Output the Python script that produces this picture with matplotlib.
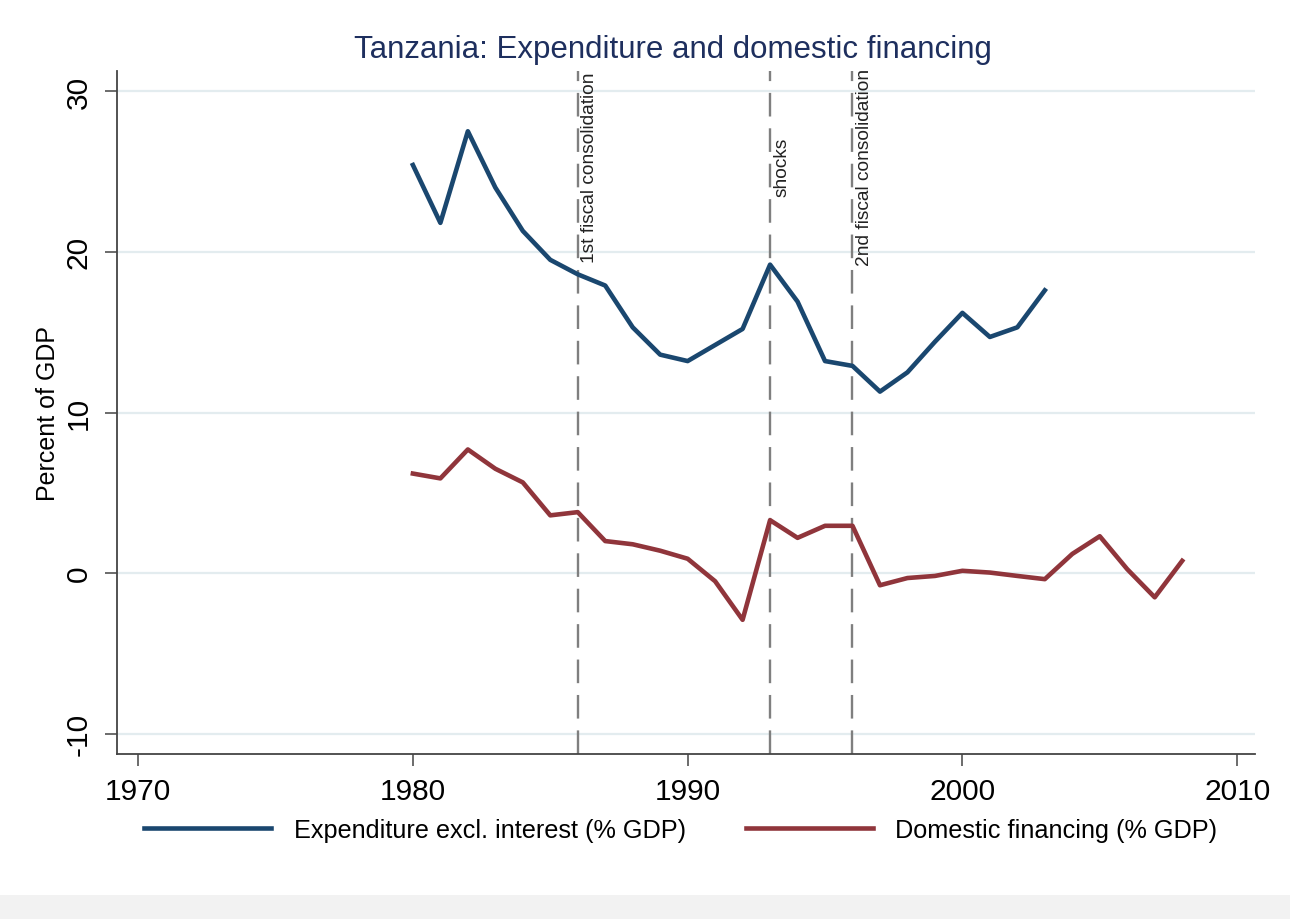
import numpy as np
import matplotlib.pyplot as plt
from matplotlib.patches import Rectangle

plt.rcParams['font.family'] = ['Liberation Sans', 'DejaVu Sans']
plt.rcParams['axes.unicode_minus'] = False

# Data
years_exp = list(range(1980, 2004))
expenditure = [25.4, 21.8, 27.5, 24.0, 21.3, 19.5, 18.6, 17.9, 15.3, 13.6,
               13.2, 14.2, 15.2, 19.2, 16.9, 13.2, 12.9, 11.3, 12.5, 14.4,
               16.2, 14.7, 15.3, 17.6]

years_fin = list(range(1980, 2009))
financing = [6.2, 5.9, 7.7, 6.5, 5.65, 3.6, 3.8, 2.0, 1.8, 1.4,
             0.9, -0.5, -2.9, 3.3, 2.2, 2.95, 2.95, -0.75, -0.3, -0.17,
             0.15, 0.04, -0.17, -0.37, 1.2, 2.3, 0.25, -1.5, 0.77]

event_years = [1986, 1993, 1996]
event_labels = ["1st fiscal consolidation", "shocks", "2nd fiscal consolidation"]

xticks = [1970, 1980, 1990, 2000, 2010]
yticks = [-10, 0, 10, 20, 30]

blue = "#1a476f"
maroon = "#90353b"

fig = plt.figure(figsize=(12.9, 9.2), dpi=100)
ax = fig.add_axes([117/1290, 1 - 755/920, (1255 - 117)/1290, (755 - 72)/920])

# grid
for yv in yticks:
    ax.axhline(yv, color="#e3ecef", lw=1.6, zorder=0)

# event lines
for yr, lab in zip(event_years, event_labels):
    ax.axvline(yr, color="#7f7f7f", lw=1.7, dashes=(10, 5), zorder=1)
    ax.text(yr + 0.12, 25.3, lab, rotation=90, ha="left", va="center",
            fontsize=13.8, color="#222222")

ax.plot(years_exp, expenditure, color=blue, lw=3.3, zorder=3,
        label="Expenditure excl. interest (% GDP)")
ax.plot(years_fin, financing, color=maroon, lw=3.3, zorder=3,
        label="Domestic financing (% GDP)")

ax.set_xlim(1969.23, 2010.65)
ax.set_ylim(-11.25, 31.25)
ax.set_xticks(xticks)
ax.set_yticks(yticks)
ax.tick_params(axis="both", length=8.6, width=1.1, color="#444444",
               labelsize=21.5, pad=8)
ax.tick_params(axis="y", pad=9)
for lbl in ax.get_yticklabels():
    lbl.set_rotation(90)
    lbl.set_va("center")

for s in ["top", "right"]:
    ax.spines[s].set_visible(False)
for s in ["left", "bottom"]:
    ax.spines[s].set_color("#444444")
    ax.spines[s].set_linewidth(1.3)

ax.set_ylabel("Percent of GDP", fontsize=18, labelpad=3)
ax.set_title("Tanzania: Expenditure and domestic financing", fontsize=22.5,
             color="#1e2f5e", pad=10, x=(673 - 117)/1138)

fig.legend(loc="center", bbox_to_anchor=(681/1290, 1 - 831/920), ncol=2,
           frameon=False, fontsize=18.2, handlelength=5.0, handletextpad=0.9,
           columnspacing=2.4)

# light band at the very bottom of the screenshot
fig.patches.append(Rectangle((0, 0), 1, 24/920, transform=fig.transFigure,
                             facecolor="#f2f2f2", edgecolor="none", zorder=0))

fig.savefig("out.png", dpi=100)
